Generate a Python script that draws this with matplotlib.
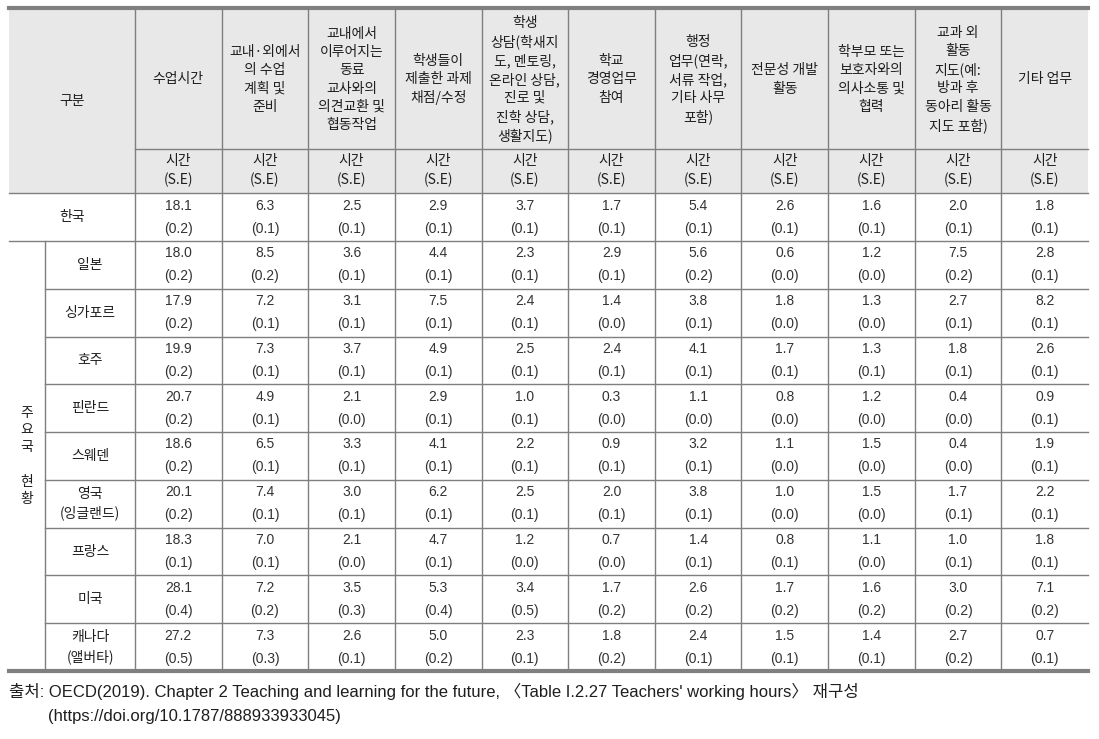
import matplotlib
matplotlib.use('Agg')
import matplotlib.pyplot as plt

plt.rcParams['font.family'] = ['Noto Sans CJK KR', 'DejaVu Sans']

# column headers
activities = ['수업시간',
              '교내·외에서\n의 수업\n계획 및\n준비',
              '교내에서\n이루어지는\n동료\n교사와의\n의견교환 및\n협동작업',
              '학생들이\n제출한 과제\n채점/수정',
              '학생\n상담(학새지\n도, 멘토링,\n온라인 상담,\n진로 및\n진학 상담,\n생활지도)',
              '학교\n경영업무\n참여',
              '행정\n업무(연락,\n서류 작업,\n기타 사무\n포함)',
              '전문성 개발\n활동',
              '학부모 또는\n보호자와의\n의사소통 및\n협력',
              '교과 외\n활동\n지도(예:\n방과 후\n동아리 활동\n지도 포함)',
              '기타 업무']

countries = ['한국', '일본', '싱가포르', '호주', '핀란드', '스웨덴',
             '영국\n(잉글랜드)', '프랑스', '미국', '캐나다\n(앨버타)']

hours = [
    [18.1, 6.3, 2.5, 2.9, 3.7, 1.7, 5.4, 2.6, 1.6, 2.0, 1.8],
    [18.0, 8.5, 3.6, 4.4, 2.3, 2.9, 5.6, 0.6, 1.2, 7.5, 2.8],
    [17.9, 7.2, 3.1, 7.5, 2.4, 1.4, 3.8, 1.8, 1.3, 2.7, 8.2],
    [19.9, 7.3, 3.7, 4.9, 2.5, 2.4, 4.1, 1.7, 1.3, 1.8, 2.6],
    [20.7, 4.9, 2.1, 2.9, 1.0, 0.3, 1.1, 0.8, 1.2, 0.4, 0.9],
    [18.6, 6.5, 3.3, 4.1, 2.2, 0.9, 3.2, 1.1, 1.5, 0.4, 1.9],
    [20.1, 7.4, 3.0, 6.2, 2.5, 2.0, 3.8, 1.0, 1.5, 1.7, 2.2],
    [18.3, 7.0, 2.1, 4.7, 1.2, 0.7, 1.4, 0.8, 1.1, 1.0, 1.8],
    [28.1, 7.2, 3.5, 5.3, 3.4, 1.7, 2.6, 1.7, 1.6, 3.0, 7.1],
    [27.2, 7.3, 2.6, 5.0, 2.3, 1.8, 2.4, 1.5, 1.4, 2.7, 0.7],
]
se = [
    [0.2, 0.1, 0.1, 0.1, 0.1, 0.1, 0.1, 0.1, 0.1, 0.1, 0.1],
    [0.2, 0.2, 0.1, 0.1, 0.1, 0.1, 0.2, 0.0, 0.0, 0.2, 0.1],
    [0.2, 0.1, 0.1, 0.1, 0.1, 0.0, 0.1, 0.0, 0.0, 0.1, 0.1],
    [0.2, 0.1, 0.1, 0.1, 0.1, 0.1, 0.1, 0.1, 0.1, 0.1, 0.1],
    [0.2, 0.1, 0.0, 0.1, 0.1, 0.0, 0.0, 0.0, 0.0, 0.0, 0.1],
    [0.2, 0.1, 0.1, 0.1, 0.1, 0.1, 0.1, 0.0, 0.0, 0.0, 0.1],
    [0.2, 0.1, 0.1, 0.1, 0.1, 0.1, 0.1, 0.0, 0.0, 0.1, 0.1],
    [0.1, 0.1, 0.0, 0.1, 0.0, 0.0, 0.1, 0.1, 0.0, 0.1, 0.1],
    [0.4, 0.2, 0.3, 0.4, 0.5, 0.2, 0.2, 0.2, 0.2, 0.2, 0.2],
    [0.5, 0.3, 0.1, 0.2, 0.1, 0.2, 0.1, 0.1, 0.1, 0.2, 0.1],
]

source1 = "출처: OECD(2019). Chapter 2 Teaching and learning for the future, 〈Table I.2.27 Teachers' working hours〉 재구성"
source2 = "(https://doi.org/10.1787/888933933045)"

# layout in pixels
W, H = 1099, 739
x_left, x_sub, x_lab, x_right = 9, 45, 135, 1088
col_w = (x_right - x_lab) / len(activities)
y_top, y_h1, y_h2 = 8, 149, 193
row_h = (671 - 241) / 9
line_c = '#7f7f7f'
txt_c = '#1e1e1e'
num_font = ['Liberation Sans', 'Noto Sans CJK KR']
kfs = 10

fig = plt.figure(figsize=(W / 100, H / 100), dpi=100)
ax = fig.add_axes([0, 0, 1, 1])
ax.set_xlim(0, W)
ax.set_ylim(H, 0)
ax.axis('off')

ax.add_patch(plt.Rectangle((x_left, y_top), x_right - x_left, y_h2 - y_top,
                           facecolor='#e8e8e8', edgecolor='none', zorder=0))

row_tops = [y_h2] + [241 + row_h * i for i in range(10)]
y_bottom = row_tops[-1]

# horizontal lines
ax.plot([x_lab, x_right], [y_h1, y_h1], color=line_c, lw=1)
ax.plot([x_left, x_right], [y_h2, y_h2], color=line_c, lw=1)
ax.plot([x_left, x_right], [241, 241], color=line_c, lw=1)
for yy in row_tops[2:-1]:
    ax.plot([x_sub, x_right], [yy, yy], color=line_c, lw=1)
ax.plot([x_left, x_right], [y_top, y_top], color='#808080', lw=3)
ax.plot([x_left, x_right], [y_bottom, y_bottom], color='#808080', lw=3)

# vertical lines
for j in range(len(activities)):
    xx = x_lab + col_w * j
    ax.plot([xx, xx], [y_top, y_bottom], color=line_c, lw=1)
ax.plot([x_sub, x_sub], [241, y_bottom], color=line_c, lw=1)

# header text
ax.text((x_left + x_lab) / 2, (y_top + y_h2) / 2, '구분', ha='center', va='center',
        fontsize=kfs, color=txt_c)
for j, lab in enumerate(activities):
    cx = x_lab + col_w * (j + 0.5)
    ax.text(cx, (y_top + y_h1) / 2 + 1, lab, ha='center', va='center', fontsize=kfs,
            color=txt_c, linespacing=1.37)
    ax.text(cx, (y_h1 + y_h2) / 2, '시간\n(S.E)', ha='center', va='center',
            fontsize=kfs, color=txt_c, linespacing=1.4)

# row labels
ax.text((x_left + x_lab) / 2, (y_h2 + 241) / 2, countries[0], ha='center', va='center',
        fontsize=kfs, color=txt_c)
for i, c in enumerate(countries[1:]):
    cy = row_tops[i + 1] + row_h / 2
    ax.text((x_sub + x_lab) / 2, cy, c, ha='center', va='center', fontsize=kfs,
            color=txt_c, linespacing=1.4)
ax.text((x_left + x_sub) / 2, (241 + y_bottom) / 2, '주\n요\n국\n\n현\n황',
        ha='center', va='center', fontsize=kfs, color=txt_c, linespacing=1.3)

# values
row_bounds = [(y_h2, 241)] + [(row_tops[i + 1], row_tops[i + 2]) for i in range(9)]
for i in range(len(countries)):
    cy = sum(row_bounds[i]) / 2
    for j in range(len(activities)):
        cx = x_lab + col_w * (j + 0.5)
        ax.text(cx, cy - 11.5, f'{hours[i][j]:.1f}', ha='center', va='center',
                fontsize=10, color='#333333', family=num_font)
        ax.text(cx, cy + 11.5, f'({se[i][j]:.1f})', ha='center', va='center',
                fontsize=10, color='#333333', family=num_font)

# source
ax.text(x_left, 691, source1, ha='left', va='center', fontsize=12, color=txt_c,
        family=num_font)
ax.text(48, 716, source2, ha='left', va='center', fontsize=12, color=txt_c,
        family=num_font)

fig.savefig('out.png', dpi=100)
